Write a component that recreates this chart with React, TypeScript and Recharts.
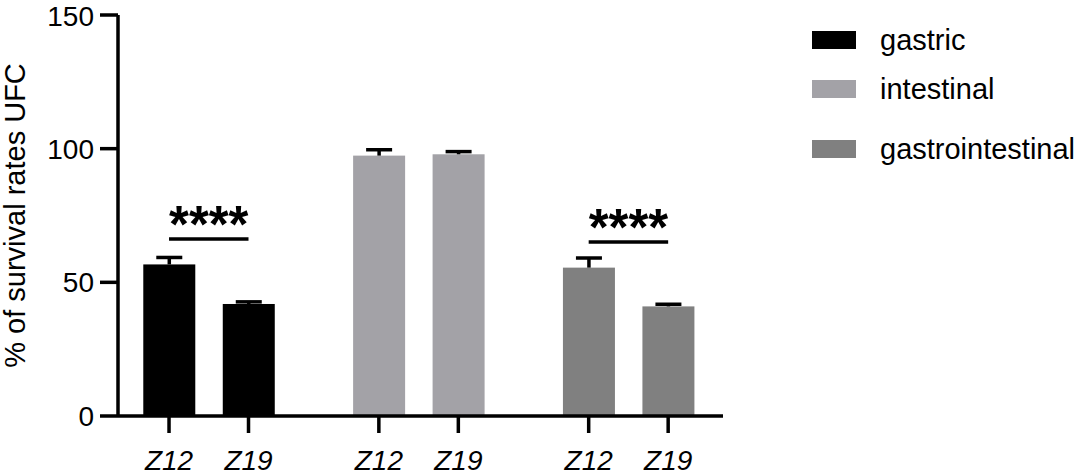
import { BarChart, Bar, Cell, XAxis, YAxis, Legend, ReferenceLine, Label } from "recharts";

const groups = ["gastric", "intestinal", "gastrointestinal"];
const groupColors = ["#000000", "#a3a2a7", "#808080"];
const strains = ["Z12", "Z19"];

// mean and upper error (SEM) per strain
const gastricMean = [56.7, 41.9];
const gastricErr = [2.6, 0.8];
const intestinalMean = [97.4, 97.9];
const intestinalErr = [2.2, 1.0];
const gastroMean = [55.5, 41.0];
const gastroErr = [3.6, 0.8];

const yTicks = [0, 50, 100, 150];

// significance brackets: group index, bracket height (y units), label
const sigGroups = [0, 2];
const sigLevels = [66.2, 65.1];
const sigLabels = ["****", "****"];

const FONT = "'Liberation Sans', Arial, sans-serif";
const GROUP_STEP = 2.64; // distance between groups, in bar-slot units
const legendRowTops = [31, 80, 140];

const means = [gastricMean, intestinalMean, gastroMean];
const errs = [gastricErr, intestinalErr, gastroErr];

const data = groups.flatMap((g, gi) =>
  strains.map((s, si) => ({
    pos: gi * GROUP_STEP + si,
    strain: s,
    group: gi,
    mean: means[gi][si],
    err: errs[gi][si],
  }))
);

const strainAt = (v: number) => data.find((d) => Math.abs(d.pos - v) < 1e-6)?.strain ?? "";

// bar + upper-only error whisker (GraphPad style)
const BarWithError = (props: any) => {
  const { x, y, width, height, payload } = props;
  const pxPerUnit = payload.mean ? height / payload.mean : 0;
  const top = y - payload.err * pxPerUnit;
  const cx = x + width / 2;
  return (
    <g>
      <rect x={x} y={y} width={width} height={height} fill={groupColors[payload.group]} />
      <line x1={cx} x2={cx} y1={y} y2={top} stroke="#000" strokeWidth={3.5} />
      <line x1={cx - 13} x2={cx + 13} y1={top} y2={top} stroke="#000" strokeWidth={3.5} />
    </g>
  );
};

const starLabel = (p: any, text: string) => {
  const vb = p.viewBox || {};
  const cx = (vb.x ?? 0) + (vb.width ?? 0) / 2;
  return (
    <text x={cx} y={(vb.y ?? 0) + 3} textAnchor="middle" fontSize={51} fontWeight="bold" fill="#000" fontFamily={FONT}>
      {text}
    </text>
  );
};

const LegendBox = () => (
  <div style={{ position: "relative", height: 170, fontFamily: FONT }}>
    {groups.map((g, i) => (
      <div
        key={g}
        style={{ position: "absolute", top: legendRowTops[i], left: 0, display: "flex", alignItems: "center", height: 18 }}
      >
        <span style={{ display: "inline-block", width: 44, height: 18, background: groupColors[i] }} />
        <span style={{ marginLeft: 24, fontSize: 29, lineHeight: "18px", color: "#000", whiteSpace: "nowrap" }}>{g}</span>
      </div>
    ))}
  </div>
);

export default function App() {
  return (
    <div style={{ position: "absolute", left: 0, top: 0, fontFamily: FONT, background: "#fff" }}>
      <BarChart width={1084} height={476} data={data} margin={{ top: 15, right: 361, bottom: 0, left: 0 }}>
        <XAxis
          type="number"
          dataKey="pos"
          domain={[-0.642, 6.97]}
          allowDataOverflow
          ticks={data.map((d) => d.pos)}
          interval={0}
          tickFormatter={strainAt}
          height={60}
          tickSize={17}
          tickMargin={17}
          axisLine={{ stroke: "#000", strokeWidth: 3.5 }}
          tickLine={{ stroke: "#000", strokeWidth: 3.5 }}
          tick={{ fontSize: 28, fontStyle: "italic", fill: "#000" }}
        />
        <YAxis
          domain={[0, 150]}
          ticks={yTicks}
          width={118}
          tickSize={18}
          tickMargin={6}
          axisLine={{ stroke: "#000", strokeWidth: 3.5 }}
          tickLine={{ stroke: "#000", strokeWidth: 3.5 }}
          tick={{ fontSize: 28, fill: "#000" }}
        >
          <Label
            value="% of survival rates UFC"
            angle={-90}
            position="insideLeft"
            offset={15}
            fontSize={29}
            fill="#000"
            style={{ textAnchor: "middle" }}
          />
        </YAxis>
        <Legend
          layout="vertical"
          align="center"
          verticalAlign="middle"
          wrapperStyle={{ left: 812, top: 0, width: 272 }}
          content={() => <LegendBox />}
        />
        <Bar dataKey="mean" barSize={52} shape={BarWithError} isAnimationActive={false}>
          {data.map((d) => (
            <Cell key={d.pos} fill={groupColors[d.group]} />
          ))}
        </Bar>
        {sigGroups.map((g, i) => (
          <ReferenceLine
            key={g}
            segment={[
              { x: g * GROUP_STEP, y: sigLevels[i] },
              { x: g * GROUP_STEP + 1, y: sigLevels[i] },
            ]}
            stroke="#000"
            strokeWidth={3.5}
            label={(p: any) => starLabel(p, sigLabels[i])}
          />
        ))}
      </BarChart>
    </div>
  );
}
